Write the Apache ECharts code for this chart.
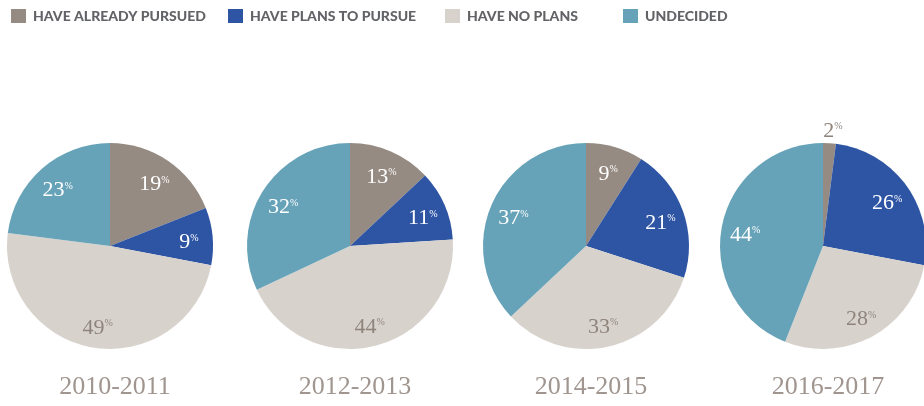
<!DOCTYPE html>
<html>
<head>
<meta charset="utf-8">
<title>Pursuit plans by year</title>
<script src="https://cdn.jsdelivr.net/npm/echarts@6/dist/echarts.min.js"></script>
<style>
  html, body { margin: 0; padding: 0; background: #fff; }
  #main { width: 924px; height: 406px; }
</style>
</head>
<body>
<div id="main"></div>
<script>
// categories / data
var categories = ['HAVE ALREADY PURSUED', 'HAVE PLANS TO PURSUE', 'HAVE NO PLANS', 'UNDECIDED'];
var years = ['2010-2011', '2012-2013', '2014-2015', '2016-2017'];
var pursued   = [19, 13, 9, 2];
var plans     = [9, 11, 21, 26];
var noPlans   = [49, 44, 33, 28];
var undecided = [23, 32, 37, 44];

var colors = ['#968b82', '#2e55a4', '#d8d2cd', '#67a3b8'];
var labelColors = ['#fff', '#fff', '#8e847c', '#fff'];
var centersX = [110, 350, 586, 823];
var centerY = 246;
var R = 103;

var serif = '"Liberation Serif", "DejaVu Serif", serif';

function richFor(color) {
    return {
        v: { fontFamily: serif, fontSize: 22, color: color },
        p: { fontFamily: serif, fontSize: 10, color: color, padding: [0, 0, 9, 0] }
    };
}

var series = [];
var titles = [];
var legends = [];
var legendLeft = [11, 228, 445, 623];

for (var i = 0; i < years.length; i++) {
    var vals = [pursued[i], plans[i], noPlans[i], undecided[i]];
    var mainData = [];
    var labelData = [];
    for (var j = 0; j < categories.length; j++) {
        var small = vals[j] < 5;
        mainData.push({
            value: vals[j],
            name: categories[j],
            itemStyle: { color: colors[j] },
            label: small ? {
                show: true,
                position: 'outside',
                distanceToLabelLine: -7,
                formatter: '{v|{c}}{p|%}',
                rich: richFor('#8e847c')
            } : { show: false },
            labelLine: { show: false, length: 12, length2: 0 }
        });
        labelData.push({
            value: vals[j],
            name: categories[j],
            label: {
                show: !small,
                position: 'inside',
                formatter: '{v|{c}}{p|%}',
                rich: richFor(labelColors[j])
            }
        });
    }
    // 饼图本体
    series.push({
        type: 'pie',
        center: [centersX[i], centerY],
        radius: [0, R],
        startAngle: 90,
        clockwise: true,
        avoidLabelOverlap: false,
        silent: true,
        animation: false,
        itemStyle: { borderWidth: 0 },
        data: mainData
    });
    // 透明的标签层,把数字推到0.74r处
    series.push({
        type: 'pie',
        center: [centersX[i], centerY + 4],
        radius: [0, R * 1.48],
        startAngle: 90,
        clockwise: true,
        avoidLabelOverlap: false,
        silent: true,
        animation: false,
        itemStyle: { color: 'rgba(0,0,0,0)', borderWidth: 0 },
        labelLine: { show: false },
        data: labelData
    });
    titles.push({
        text: years[i],
        left: centersX[i],
        top: 369,
        textAlign: 'center',
        textStyle: { fontFamily: serif, fontSize: 26, fontWeight: 'normal', color: '#a0958f' }
    });
}

for (var k = 0; k < categories.length; k++) {
    legends.push({
        data: [{ name: categories[k], icon: 'rect', itemStyle: { color: colors[k] } }],
        left: legendLeft[k],
        top: 9,
        padding: 0,
        itemWidth: 15,
        itemHeight: 14,
        selectedMode: false,
        textStyle: {
            fontFamily: 'Lato, "Open Sans", sans-serif',
            fontWeight: 900,
            fontSize: 14,
            color: '#626366',
            padding: [0, 0, 0, 2]
        }
    });
}

var myChart = echarts.init(document.getElementById('main'));
var option = {
    backgroundColor: '#fff',
    animation: false,
    title: titles,
    legend: legends,
    series: series
};
myChart.setOption(option);
window.onresize = myChart.resize;
</script>
</body>
</html>
